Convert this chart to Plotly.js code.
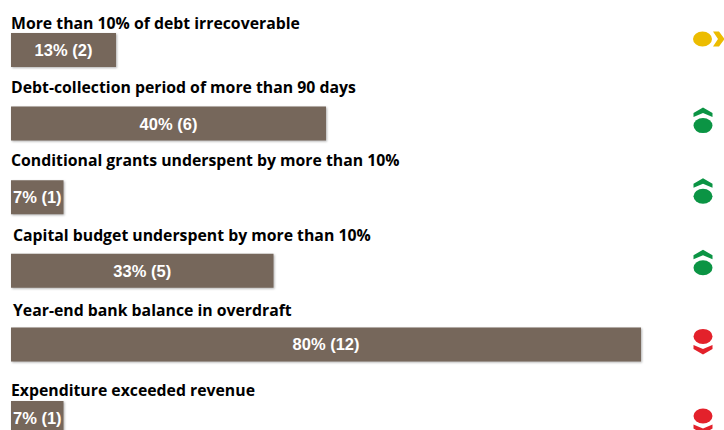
<!DOCTYPE html>
<html>
<head>
<meta charset="utf-8">
<script src="https://cdn.plot.ly/plotly-3.0.1.min.js"></script>
<style>
html,body{margin:0;padding:0;background:#fff;overflow:hidden}
#chart{width:724px;height:430px}
.barlayer .point path{filter:drop-shadow(1px 1.5px 1px rgba(0,0,0,.3))}
</style>
</head>
<body>
<div id="chart"></div>
<script>
// Municipal financial-health indicators, out of 15 municipalities
const indicators = [
  "More than 10% of debt irrecoverable",
  "Debt-collection period of more than 90 days",
  "Conditional grants underspent by more than 10%",
  "Capital budget underspent by more than 10%",
  "Year-end bank balance in overdraft",
  "Expenditure exceeded revenue"
];
const counts = [2, 6, 1, 5, 12, 1];
const percents = [13, 40, 7, 33, 80, 7];
const trends = ["same", "up", "up", "up", "down", "down"];

// Page geometry
const W = 724, H = 430;
const barLeft = 11, pxPerCount = 52.5;
const firstRowY = 50, rowPitch = 73.6;
const headingY = [23, 87, 160, 235, 310, 390];
const headingX = [10, 10, 10, 12, 12, 10];
const badgeX = [702.5, 703, 703, 703, 703, 703];
const badgeOffsetY = [-11, 2, -1, -3, -8, -2];

const trendColors = {same: "#ECBC00", up: "#0B9444", down: "#E3212B"};

// Chevron outlines relative to each badge's oval centre, in pixels (y up)
const chevrons = {
  same: "M10.5,7.5 L16.5,7.5 L22,0 L16.5,-7.5 L10.5,-7.5 L15.5,0 Z",
  up: "M-9.5,8.5 L0,12.5 L9.5,8.5 L9.5,12.5 L0,18 L-9.5,12.5 Z",
  down: "M-9.5,-8.5 L0,-12.5 L9.5,-8.5 L9.5,-12.5 L0,-18 L-9.5,-12.5 Z"
};

const xRange = [-barLeft / pxPerCount, (W - barLeft) / pxPerCount];
const yRange = [(H - firstRowY) / rowPitch, -firstRowY / rowPitch];
const rows = indicators.map((_, i) => i);

const bars = {
  type: "bar",
  orientation: "h",
  x: counts,
  y: rows,
  width: 0.462,
  marker: {color: "#76675B", line: {width: 0}},
  text: counts.map((c, i) => percents[i] + "% (" + c + ")"),
  textposition: "inside",
  insidetextanchor: "middle",
  constraintext: "none",
  textangle: 0,
  textfont: {family: "'Liberation Sans',sans-serif", size: 16.5, color: "#FFFFFF", weight: 700},
  hoverinfo: "skip",
  showlegend: false
};

const headings = indicators.map((label, i) => ({
  text: "<b>" + label + "</b>",
  xref: "paper", yref: "paper",
  x: headingX[i] / W, y: 1 - headingY[i] / H,
  xanchor: "left", yanchor: "middle",
  showarrow: false, borderpad: 0,
  font: {family: "'Open Sans', sans-serif", size: 15.8, color: "#000000"}
}));

const badgeShapes = [];
trends.forEach((trend, i) => {
  const anchor = {
    xref: "paper", yref: "y",
    xsizemode: "pixel", ysizemode: "pixel",
    xanchor: badgeX[i] / W,
    yanchor: rows[i] + badgeOffsetY[i] / rowPitch,
    fillcolor: trendColors[trend],
    line: {width: 0}
  };
  badgeShapes.push(Object.assign({type: "circle", x0: -9.5, x1: 9.5, y0: -7.5, y1: 7.5}, anchor));
  badgeShapes.push(Object.assign({type: "path", path: chevrons[trend]}, anchor));
});

Plotly.newPlot("chart", [bars], {
  width: W,
  height: H,
  margin: {l: 0, r: 0, t: 0, b: 0},
  paper_bgcolor: "#FFFFFF",
  plot_bgcolor: "#FFFFFF",
  showlegend: false,
  xaxis: {range: xRange, visible: false, fixedrange: true},
  yaxis: {range: yRange, visible: false, fixedrange: true},
  annotations: headings,
  shapes: badgeShapes
}, {displayModeBar: false, staticPlot: true});
</script>
</body>
</html>
